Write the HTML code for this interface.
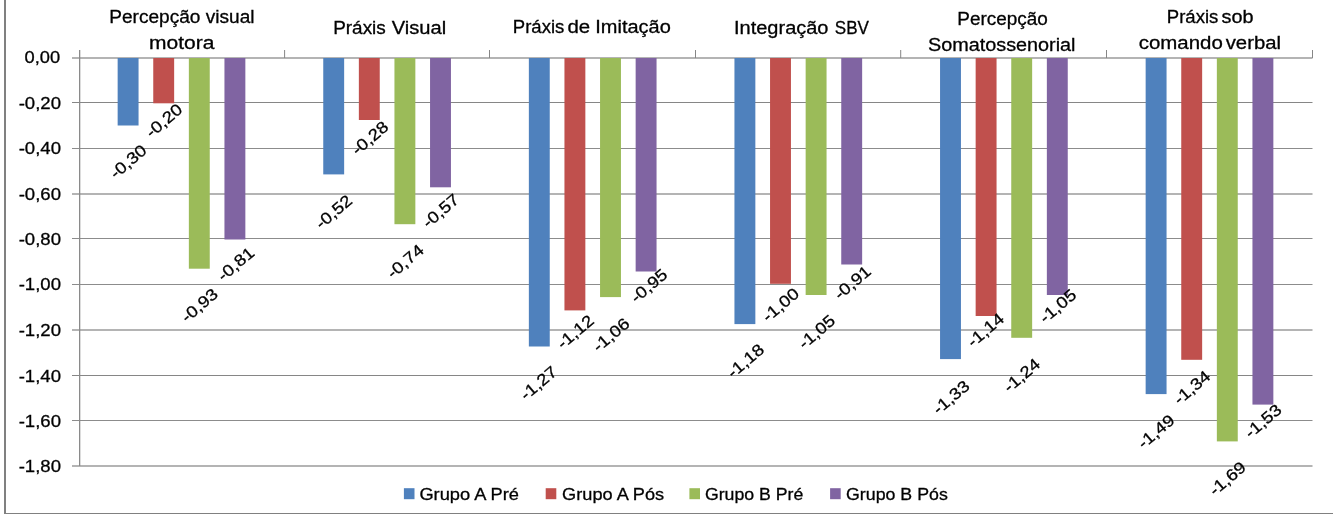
<!DOCTYPE html>
<html><head><meta charset="utf-8"><title>Chart</title>
<style>
html,body{margin:0;padding:0;background:#fff;}
body{width:1333px;height:514px;overflow:hidden;}
svg{display:block;}
text{font-family:"Liberation Sans",sans-serif;fill:#000;stroke:#000;stroke-width:0.3px;}
</style></head><body>
<svg width="1333" height="514" viewBox="0 0 1333 514">
<rect x="0" y="0" width="1333" height="514" fill="#fff"/>
<rect x="4" y="0" width="2" height="514" fill="#808080"/>
<rect x="4" y="513" width="1329" height="1" fill="#808080"/>
<rect x="72" y="57" width="1240.5" height="2" fill="#b4b4b4"/>
<rect x="72" y="102" width="1240.5" height="1" fill="#868686"/>
<rect x="72" y="148" width="1240.5" height="1" fill="#8c8c8c"/>
<rect x="72" y="193" width="1240.5" height="2" fill="#b4b4b4"/>
<rect x="72" y="238" width="1240.5" height="1" fill="#8c8c8c"/>
<rect x="72" y="284" width="1240.5" height="1" fill="#8c8c8c"/>
<rect x="72" y="329" width="1240.5" height="2" fill="#b4b4b4"/>
<rect x="72" y="375" width="1240.5" height="1" fill="#868686"/>
<rect x="72" y="420" width="1240.5" height="1" fill="#8c8c8c"/>
<rect x="72" y="465" width="1240.5" height="2" fill="#b4b4b4"/>
<rect x="79" y="50" width="1.3" height="416" fill="#8a8a8a"/>
<rect x="284.10" y="50" width="1" height="8" fill="#868686"/>
<rect x="489.00" y="50" width="1" height="8" fill="#868686"/>
<rect x="695.00" y="50" width="1" height="8" fill="#868686"/>
<rect x="900.20" y="50" width="1" height="8" fill="#868686"/>
<rect x="1106.00" y="50" width="1" height="8" fill="#868686"/>
<rect x="1312.00" y="50" width="1" height="8" fill="#868686"/>
<rect x="117.65" y="58" width="20.9" height="67.50" fill="#4F81BD"/>
<rect x="153.25" y="58" width="20.9" height="45.30" fill="#C0504D"/>
<rect x="188.85" y="58" width="20.9" height="210.70" fill="#9BBB59"/>
<rect x="224.45" y="58" width="20.9" height="181.50" fill="#8064A2"/>
<rect x="323.25" y="58" width="20.9" height="116.40" fill="#4F81BD"/>
<rect x="358.85" y="58" width="20.9" height="62.00" fill="#C0504D"/>
<rect x="394.45" y="58" width="20.9" height="166.20" fill="#9BBB59"/>
<rect x="430.05" y="58" width="20.9" height="129.30" fill="#8064A2"/>
<rect x="528.85" y="58" width="20.9" height="288.50" fill="#4F81BD"/>
<rect x="564.45" y="58" width="20.9" height="252.40" fill="#C0504D"/>
<rect x="600.05" y="58" width="20.9" height="239.10" fill="#9BBB59"/>
<rect x="635.65" y="58" width="20.9" height="213.50" fill="#8064A2"/>
<rect x="734.45" y="58" width="20.9" height="266.10" fill="#4F81BD"/>
<rect x="770.05" y="58" width="20.9" height="225.80" fill="#C0504D"/>
<rect x="805.65" y="58" width="20.9" height="237.00" fill="#9BBB59"/>
<rect x="841.25" y="58" width="20.9" height="206.50" fill="#8064A2"/>
<rect x="940.05" y="58" width="20.9" height="301.10" fill="#4F81BD"/>
<rect x="975.65" y="58" width="20.9" height="258.00" fill="#C0504D"/>
<rect x="1011.25" y="58" width="20.9" height="279.80" fill="#9BBB59"/>
<rect x="1046.85" y="58" width="20.9" height="237.00" fill="#8064A2"/>
<rect x="1145.65" y="58" width="20.9" height="336.10" fill="#4F81BD"/>
<rect x="1181.25" y="58" width="20.9" height="301.80" fill="#C0504D"/>
<rect x="1216.85" y="58" width="20.9" height="383.40" fill="#9BBB59"/>
<rect x="1252.45" y="58" width="20.9" height="346.60" fill="#8064A2"/>
<rect x="403.9" y="488.2" width="10.6" height="11" fill="#4F81BD"/>
<rect x="545.7" y="488.2" width="10.6" height="11" fill="#C0504D"/>
<rect x="689.4" y="488.2" width="10.6" height="11" fill="#9BBB59"/>
<rect x="830.1" y="488.2" width="10.6" height="11" fill="#8064A2"/>
<g style="opacity:0.999">
<text x="60.2" y="63.4" font-size="16.4" text-anchor="end" textLength="35.6" lengthAdjust="spacingAndGlyphs">0,00</text>
<text x="61.0" y="108.6" font-size="16.4" text-anchor="end" textLength="42.3" lengthAdjust="spacingAndGlyphs">-0,20</text>
<text x="61.0" y="154.4" font-size="16.4" text-anchor="end" textLength="42.3" lengthAdjust="spacingAndGlyphs">-0,40</text>
<text x="61.0" y="200.1" font-size="16.4" text-anchor="end" textLength="42.3" lengthAdjust="spacingAndGlyphs">-0,60</text>
<text x="61.0" y="244.6" font-size="16.4" text-anchor="end" textLength="42.3" lengthAdjust="spacingAndGlyphs">-0,80</text>
<text x="61.0" y="290.4" font-size="16.4" text-anchor="end" textLength="42.3" lengthAdjust="spacingAndGlyphs">-1,00</text>
<text x="61.0" y="336.1" font-size="16.4" text-anchor="end" textLength="42.3" lengthAdjust="spacingAndGlyphs">-1,20</text>
<text x="61.0" y="381.6" font-size="16.4" text-anchor="end" textLength="42.3" lengthAdjust="spacingAndGlyphs">-1,40</text>
<text x="61.0" y="426.5" font-size="16.4" text-anchor="end" textLength="42.3" lengthAdjust="spacingAndGlyphs">-1,60</text>
<text x="61.0" y="472.1" font-size="16.4" text-anchor="end" textLength="42.3" lengthAdjust="spacingAndGlyphs">-1,80</text>
<text x="109.3" y="23.2" font-size="17.5" textLength="145.2" lengthAdjust="spacingAndGlyphs">Percepção visual</text>
<text x="149.0" y="49.1" font-size="17.5" textLength="65.3" lengthAdjust="spacingAndGlyphs">motora</text>
<text x="333.2" y="33.6" font-size="17.5" textLength="52.6" lengthAdjust="spacingAndGlyphs">Práxis</text>
<text x="391.7" y="33.6" font-size="17.5" textLength="54.5" lengthAdjust="spacingAndGlyphs">Visual</text>
<text x="512.8" y="32.8" font-size="17.5" textLength="51.5" lengthAdjust="spacingAndGlyphs">Práxis</text>
<text x="567.5" y="32.8" font-size="17.5" textLength="22.7" lengthAdjust="spacingAndGlyphs">de</text>
<text x="595.3" y="32.8" font-size="17.5" textLength="75.5" lengthAdjust="spacingAndGlyphs">Imitação</text>
<text x="734.0" y="33.6" font-size="17.5" textLength="94.5" lengthAdjust="spacingAndGlyphs">Integração</text>
<text x="834.8" y="33.6" font-size="17.5" textLength="34.2" lengthAdjust="spacingAndGlyphs">SBV</text>
<text x="957.3" y="24.7" font-size="17.5" textLength="90.5" lengthAdjust="spacingAndGlyphs">Percepção</text>
<text x="928.0" y="51.2" font-size="17.5" textLength="147.5" lengthAdjust="spacingAndGlyphs">Somatossenorial</text>
<text x="1166.8" y="23.2" font-size="17.5" textLength="51.5" lengthAdjust="spacingAndGlyphs">Práxis</text>
<text x="1221.5" y="23.2" font-size="17.5" textLength="32.0" lengthAdjust="spacingAndGlyphs">sob</text>
<text x="1138.7" y="49.1" font-size="17.5" textLength="84.1" lengthAdjust="spacingAndGlyphs">comando</text>
<text x="1225.7" y="49.1" font-size="17.5" textLength="55.3" lengthAdjust="spacingAndGlyphs">verbal</text>
<text transform="translate(127.9,161.3) rotate(-40.5)" x="0" y="6" font-size="16.2" text-anchor="middle" textLength="42.3" lengthAdjust="spacingAndGlyphs">-0,30</text>
<text transform="translate(163.7,120.3) rotate(-40.5)" x="0" y="6" font-size="16.2" text-anchor="middle" textLength="42.3" lengthAdjust="spacingAndGlyphs">-0,20</text>
<text transform="translate(199.2,304.9) rotate(-40.5)" x="0" y="6" font-size="16.2" text-anchor="middle" textLength="42.3" lengthAdjust="spacingAndGlyphs">-0,93</text>
<text transform="translate(235.5,263.6) rotate(-40.5)" x="0" y="6" font-size="16.2" text-anchor="middle" textLength="42.3" lengthAdjust="spacingAndGlyphs">-0,81</text>
<text transform="translate(333.4,211.4) rotate(-40.5)" x="0" y="6" font-size="16.2" text-anchor="middle" textLength="42.3" lengthAdjust="spacingAndGlyphs">-0,52</text>
<text transform="translate(369.6,137.7) rotate(-40.5)" x="0" y="6" font-size="16.2" text-anchor="middle" textLength="42.3" lengthAdjust="spacingAndGlyphs">-0,28</text>
<text transform="translate(405.0,261.0) rotate(-40.5)" x="0" y="6" font-size="16.2" text-anchor="middle" textLength="42.3" lengthAdjust="spacingAndGlyphs">-0,74</text>
<text transform="translate(440.4,210.5) rotate(-40.5)" x="0" y="6" font-size="16.2" text-anchor="middle" textLength="42.3" lengthAdjust="spacingAndGlyphs">-0,57</text>
<text transform="translate(538.3,382.7) rotate(-40.5)" x="0" y="6" font-size="16.2" text-anchor="middle" textLength="42.3" lengthAdjust="spacingAndGlyphs">-1,27</text>
<text transform="translate(575.0,331.5) rotate(-40.5)" x="0" y="6" font-size="16.2" text-anchor="middle" textLength="42.3" lengthAdjust="spacingAndGlyphs">-1,12</text>
<text transform="translate(610.8,334.5) rotate(-40.5)" x="0" y="6" font-size="16.2" text-anchor="middle" textLength="42.3" lengthAdjust="spacingAndGlyphs">-1,06</text>
<text transform="translate(648.6,285.5) rotate(-40.5)" x="0" y="6" font-size="16.2" text-anchor="middle" textLength="42.3" lengthAdjust="spacingAndGlyphs">-0,95</text>
<text transform="translate(745.3,360.4) rotate(-40.5)" x="0" y="6" font-size="16.2" text-anchor="middle" textLength="42.3" lengthAdjust="spacingAndGlyphs">-1,18</text>
<text transform="translate(780.3,304.4) rotate(-40.5)" x="0" y="6" font-size="16.2" text-anchor="middle" textLength="42.3" lengthAdjust="spacingAndGlyphs">-1,00</text>
<text transform="translate(816.4,331.5) rotate(-40.5)" x="0" y="6" font-size="16.2" text-anchor="middle" textLength="42.3" lengthAdjust="spacingAndGlyphs">-1,05</text>
<text transform="translate(852.1,282.3) rotate(-40.5)" x="0" y="6" font-size="16.2" text-anchor="middle" textLength="42.3" lengthAdjust="spacingAndGlyphs">-0,91</text>
<text transform="translate(950.8,396.9) rotate(-40.5)" x="0" y="6" font-size="16.2" text-anchor="middle" textLength="42.3" lengthAdjust="spacingAndGlyphs">-1,33</text>
<text transform="translate(985.3,329.6) rotate(-40.5)" x="0" y="6" font-size="16.2" text-anchor="middle" textLength="42.3" lengthAdjust="spacingAndGlyphs">-1,14</text>
<text transform="translate(1021.4,375.0) rotate(-40.5)" x="0" y="6" font-size="16.2" text-anchor="middle" textLength="42.3" lengthAdjust="spacingAndGlyphs">-1,24</text>
<text transform="translate(1057.5,305.8) rotate(-40.5)" x="0" y="6" font-size="16.2" text-anchor="middle" textLength="42.3" lengthAdjust="spacingAndGlyphs">-1,05</text>
<text transform="translate(1155.8,431.2) rotate(-40.5)" x="0" y="6" font-size="16.2" text-anchor="middle" textLength="42.3" lengthAdjust="spacingAndGlyphs">-1,49</text>
<text transform="translate(1191.7,387.2) rotate(-40.5)" x="0" y="6" font-size="16.2" text-anchor="middle" textLength="42.3" lengthAdjust="spacingAndGlyphs">-1,34</text>
<text transform="translate(1227.1,478.3) rotate(-40.5)" x="0" y="6" font-size="16.2" text-anchor="middle" textLength="42.3" lengthAdjust="spacingAndGlyphs">-1,69</text>
<text transform="translate(1262.8,420.7) rotate(-40.5)" x="0" y="6" font-size="16.2" text-anchor="middle" textLength="42.3" lengthAdjust="spacingAndGlyphs">-1,53</text>
<text x="419.4" y="499.9" font-size="16.6" textLength="99.5" lengthAdjust="spacingAndGlyphs">Grupo A Pré</text>
<text x="562.1" y="499.9" font-size="16.6" textLength="102.0" lengthAdjust="spacingAndGlyphs">Grupo A Pós</text>
<text x="704.9" y="499.9" font-size="16.6" textLength="98.4" lengthAdjust="spacingAndGlyphs">Grupo B Pré</text>
<text x="846.0" y="499.9" font-size="16.6" textLength="101.8" lengthAdjust="spacingAndGlyphs">Grupo B Pós</text>
</g>
</svg>
</body></html>
